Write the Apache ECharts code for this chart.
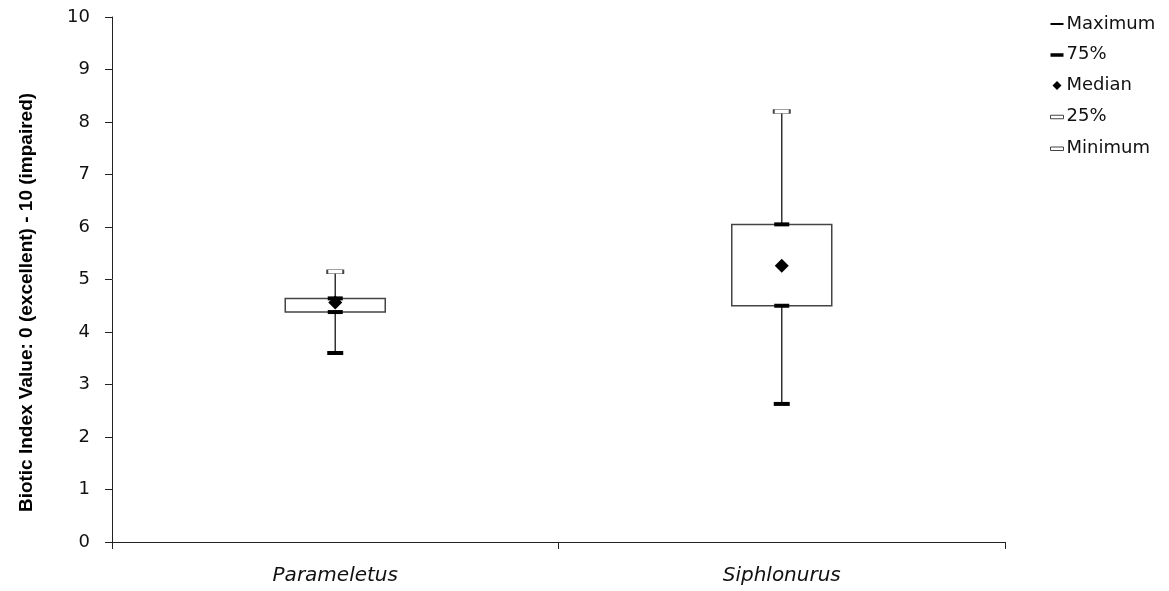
<!DOCTYPE html>
<html>
<head>
<meta charset="utf-8">
<script src="https://cdn.jsdelivr.net/npm/echarts@6/dist/echarts.min.js"></script>
<style>html,body{margin:0;padding:0;background:#fff;}#c{width:1169px;height:591px;}</style>
</head>
<body>
<div id="c"></div>
<script>
var categories = ['Parameletus', 'Siphlonurus'];
var maxVals = [5.15, 8.2];
var q3Vals = [4.64, 6.05];
var medianVals = [4.56, 5.26];
var q1Vals = [4.38, 4.5];
var minVals = [3.6, 2.63];
var yTicks = [0, 1, 2, 3, 4, 5, 6, 7, 8, 9, 10];
var yTitle = 'Biotic Index Value: 0 (excellent) - 10 (impaired)';

var boxData = categories.map(function (c, i) {
  return [i, minVals[i], q1Vals[i], q3Vals[i], maxVals[i]];
});

var chart = echarts.init(document.getElementById('c'));
var labelFont = 'DejaVu Sans';
chart.setOption({
  animation: false,
  backgroundColor: '#fff',
  grid: { left: 112, right: 164, top: 17, bottom: 49 },
  legend: {
    orient: 'vertical',
    left: 1050,
    top: 15,
    padding: 0,
    itemWidth: 13,
    itemHeight: 18,
    itemGap: 12.75,
    textStyle: { fontFamily: labelFont, fontSize: 18, color: '#111', padding: [0, 0, 0, -2] },
    data: [
      { name: 'Maximum', icon: 'path://M0,0 M13,18 M0,8 L13,8 L13,10 L0,10 Z', itemStyle: { color: '#000', borderWidth: 0 } },
      { name: '75%', icon: 'path://M0,0 M13,18 M0,7.5 L13,7.5 L13,11 L0,11 Z', itemStyle: { color: '#000', borderWidth: 0 } },
      { name: 'Median', icon: 'path://M0,0 M13,18 M6.5,4.5 L11,9 L6.5,13.5 L2,9 Z', itemStyle: { color: '#000', borderWidth: 0 } },
      { name: '25%', icon: 'path://M0,0 M13,18 M0,7.5 L13,7.5 L13,11 L0,11 Z', itemStyle: { color: '#fff', borderColor: '#444', borderWidth: 1 } },
      { name: 'Minimum', icon: 'path://M0,0 M13,18 M0,7.5 L13,7.5 L13,11 L0,11 Z', itemStyle: { color: '#fff', borderColor: '#444', borderWidth: 1 } }
    ]
  },
  xAxis: {
    type: 'category',
    data: categories,
    boundaryGap: true,
    axisLine: { lineStyle: { color: '#222', width: 1 } },
    axisTick: { show: true, length: 7, lineStyle: { color: '#222' } },
    axisLabel: { fontFamily: labelFont, fontStyle: 'italic', fontSize: 20, color: '#111', margin: 24 },
    splitLine: { show: false }
  },
  yAxis: {
    type: 'value',
    min: yTicks[0],
    max: yTicks[yTicks.length - 1],
    interval: 1,
    name: yTitle,
    nameLocation: 'middle',
    nameRotate: 90,
    nameGap: 76,
    nameTextStyle: { fontFamily: 'Liberation Sans', fontWeight: 'bold', fontSize: 19, color: '#000', padding: [0, 46, 0, 0] },
    axisLine: { show: true, lineStyle: { color: '#222', width: 1 } },
    axisTick: { show: true, length: 7, lineStyle: { color: '#222' } },
    axisLabel: { fontFamily: labelFont, fontSize: 18, color: '#111', margin: 22 },
    splitLine: { show: false }
  },
  series: [
    {
      name: 'box',
      type: 'custom',
      z: 2,
      data: boxData,
      renderItem: function (params, api) {
        var i = api.value(0);
        var pMin = api.coord([i, api.value(1)]);
        var pQ1 = api.coord([i, api.value(2)]);
        var pQ3 = api.coord([i, api.value(3)]);
        var pMax = api.coord([i, api.value(4)]);
        var w = 100;
        return {
          type: 'group',
          children: [
            { type: 'line', shape: { x1: pMax[0], y1: pMax[1], x2: pMin[0], y2: pMin[1] }, style: { stroke: '#333', lineWidth: 1.5 } },
            { type: 'rect', shape: { x: pQ3[0] - w / 2, y: pQ3[1], width: w, height: pQ1[1] - pQ3[1] }, style: { fill: '#fff', stroke: '#444', lineWidth: 1.5 } }
          ]
        };
      }
    },
    { name: 'Maximum', type: 'scatter', z: 3, data: maxVals, symbol: 'rect', symbolSize: [16, 4], itemStyle: { color: '#fff', borderColor: '#444', borderWidth: 1, opacity: 1 } },
    { name: '75%', type: 'scatter', z: 3, data: q3Vals, symbol: 'rect', symbolSize: [15, 4], itemStyle: { color: '#000', opacity: 1 } },
    { name: 'Median', type: 'scatter', z: 4, data: medianVals, symbol: 'diamond', symbolSize: 14, itemStyle: { color: '#000', opacity: 1 } },
    { name: '25%', type: 'scatter', z: 3, data: q1Vals, symbol: 'rect', symbolSize: [15, 4], itemStyle: { color: '#000', opacity: 1 } },
    { name: 'Minimum', type: 'scatter', z: 3, data: minVals, symbol: 'rect', symbolSize: [16, 4], itemStyle: { color: '#000', opacity: 1 } }
  ]
});
</script>
</body>
</html>
